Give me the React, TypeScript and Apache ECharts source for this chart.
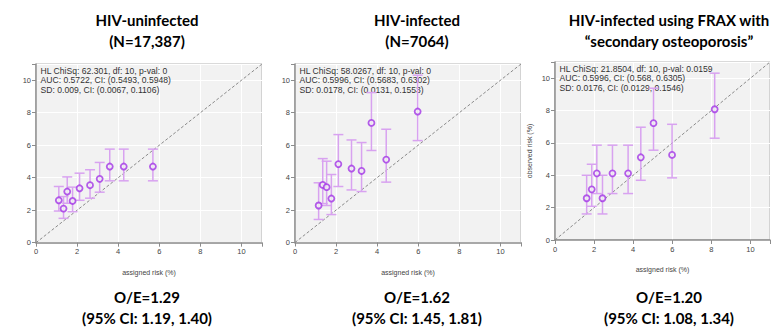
import React, { useEffect, useRef } from "react";
import * as echarts from "echarts";

// ---------- data ----------
const titleLines1 = ["HIV-uninfected", "(N=17,387)"];
const titleLines2 = ["HIV-infected", "(N=7064)"];
const titleLines3 = ["HIV-infected using FRAX with", "\u201Csecondary osteoporosis\u201D"];

const footLines1 = ["O/E=1.29", "(95% CI: 1.19, 1.40)"];
const footLines2 = ["O/E=1.62", "(95% CI: 1.45, 1.81)"];
const footLines3 = ["O/E=1.20", "(95% CI: 1.08, 1.34)"];

const stats1 = ["HL ChiSq: 62.301, df: 10, p-val: 0", "AUC: 0.5722, CI: (0.5493, 0.5948)", "SD: 0.009, CI: (0.0067, 0.1106)"];
const stats2 = ["HL ChiSq: 58.0267, df: 10, p-val: 0", "AUC: 0.5996, CI: (0.5683, 0.6302)", "SD: 0.0178, CI: (0.0131, 0.1553)"];
const stats3 = ["HL ChiSq: 21.8504, df: 10, p-val: 0.0159", "AUC: 0.5996, CI: (0.568, 0.6305)", "SD: 0.0176, CI: (0.0129, 0.1546)"];

const assigned1 = [1.11, 1.34, 1.52, 1.78, 2.12, 2.63, 3.1, 3.59, 4.27, 5.69];
const observed1 = [2.61, 2.1, 3.15, 2.57, 3.35, 3.54, 3.93, 4.69, 4.69, 4.69];
const lower1 = [1.95, 1.5, 2.43, 1.91, 2.61, 2.74, 3.11, 3.81, 3.81, 3.81];
const upper1 = [3.46, 2.84, 4.05, 3.42, 4.28, 4.49, 4.94, 5.76, 5.76, 5.76];

const assigned2 = [1.15, 1.35, 1.54, 1.77, 2.11, 2.75, 3.24, 3.72, 4.44, 5.97];
const observed2 = [2.28, 3.55, 3.41, 2.71, 4.83, 4.56, 4.41, 7.37, 5.11, 8.07];
const lower2 = [1.42, 2.4, 2.28, 1.72, 3.45, 3.24, 3.14, 5.67, 3.72, 6.28];
const upper2 = [3.68, 5.17, 5.01, 4.19, 6.65, 6.32, 6.16, 9.24, 6.98, 10.31];

const assigned3 = [1.62, 1.88, 2.14, 2.43, 2.94, 3.74, 4.39, 5.04, 5.99, 8.17];
const observed3 = [2.58, 3.13, 4.12, 2.58, 4.12, 4.12, 5.11, 7.22, 5.26, 8.08];
const lower3 = [1.61, 2.08, 2.87, 1.61, 2.87, 2.87, 3.69, 5.55, 3.84, 6.29];
const upper3 = [4.0, 4.68, 5.86, 4.0, 5.86, 5.86, 6.97, 9.38, 7.15, 10.31];

const axisTicks = [0, 2, 4, 6, 8, 10];
const axisMin = 0;
const axisMax = 11;
const xAxisName = "assigned risk (%)";
const yAxisName = "observed risk (%)";

// ---------- layout ----------
const grids = [
  { left: 36, top: 64, width: 226, height: 178.7 },
  { left: 295, top: 64, width: 226, height: 178.5 },
  { left: 555, top: 62, width: 225, height: 178 },
];
const centers = [147, 417, 669];

const POINT = "#a234e6";
const BAR = "#d8a2f0";
const TITLE_FONT = "Lato, 'Open Sans', sans-serif";
const SMALL_FONT = "'Liberation Sans', Arial, sans-serif";

export default function App() {
  const ref = useRef<HTMLDivElement>(null);

  useEffect(() => {
    document.body.style.margin = "0";
    if (!ref.current) return;
    const chart = echarts.init(ref.current, undefined, { renderer: "svg" });

    const panels = [
      { a: assigned1, o: observed1, lo: lower1, hi: upper1, stats: stats1, title: titleLines1, foot: footLines1, showY: false },
      { a: assigned2, o: observed2, lo: lower2, hi: upper2, stats: stats2, title: titleLines2, foot: footLines2, showY: false },
      { a: assigned3, o: observed3, lo: lower3, hi: upper3, stats: stats3, title: titleLines3, foot: footLines3, showY: true },
    ];

    const axisCommon = {
      type: "value" as const,
      min: axisMin,
      max: axisMax,
      interval: 2,
      axisLine: { show: true, onZero: false, lineStyle: { color: "#8c8c8c", width: 1.5 } },
      axisTick: { show: true, length: 4, lineStyle: { color: "#8c8c8c" } },
      splitLine: { show: true, lineStyle: { color: "#ffffff", width: 1 } },
      nameTextStyle: { fontFamily: SMALL_FONT, fontSize: 7, color: "#444" },
    };

    const labelCommon = {
      fontFamily: SMALL_FONT,
      fontSize: 7.5,
      color: "#444",
      margin: 5,
      formatter: (v: number) => (axisTicks.includes(v) ? String(v) : ""),
    };

    const xAxis: any[] = [];
    const yAxis: any[] = [];
    const series: any[] = [];
    const graphic: any[] = [];

    panels.forEach((p, i) => {
      const g = grids[i];
      xAxis.push({
        ...axisCommon,
        gridIndex: i,
        name: xAxisName,
        nameLocation: "middle",
        nameGap: 26,
        axisLabel: labelCommon,
      });
      yAxis.push({
        ...axisCommon,
        gridIndex: i,
        name: p.showY ? yAxisName : "",
        nameLocation: "middle",
        nameGap: 22,
        axisLabel: labelCommon,
      });

      series.push({
        type: "line",
        xAxisIndex: i,
        yAxisIndex: i,
        data: [
          [axisMin, axisMin],
          [axisMax, axisMax],
        ],
        symbol: "none",
        silent: true,
        z: 1,
        lineStyle: { color: "#8a8a8a", width: 1, type: [3, 2] },
      });

      series.push({
        type: "custom",
        xAxisIndex: i,
        yAxisIndex: i,
        z: 3,
        data: p.a.map((x, k) => [x, p.lo[k], p.hi[k]]),
        encode: { x: 0, y: [1, 2] },
        renderItem: (_params: any, api: any) => {
          const x = api.value(0);
          const top = api.coord([x, api.value(2)]);
          const bot = api.coord([x, api.value(1)]);
          const w = 5;
          const style = { stroke: BAR, lineWidth: 1.5 };
          return {
            type: "group",
            children: [
              { type: "line", shape: { x1: top[0], y1: top[1], x2: bot[0], y2: bot[1] }, style },
              { type: "line", shape: { x1: top[0] - w, y1: top[1], x2: top[0] + w, y2: top[1] }, style },
              { type: "line", shape: { x1: bot[0] - w, y1: bot[1], x2: bot[0] + w, y2: bot[1] }, style },
            ],
          };
        },
      });

      series.push({
        type: "scatter",
        xAxisIndex: i,
        yAxisIndex: i,
        z: 4,
        symbol: "circle",
        symbolSize: 6,
        data: p.a.map((x, k) => [x, p.o[k]]),
        itemStyle: { color: "#f2f2f2", borderColor: POINT, borderWidth: 1.8 },
      });

      p.title.forEach((t, k) => {
        graphic.push({
          type: "text",
          x: centers[i],
          y: 20 + k * 21,
          style: {
            text: t,
            font: `bold 15px ${TITLE_FONT}`,
            fill: "#000",
            align: "center",
            verticalAlign: "middle",
          },
        });
      });
      p.foot.forEach((t, k) => {
        graphic.push({
          type: "text",
          x: centers[i],
          y: 297 + k * 21,
          style: {
            text: t,
            font: `bold 15px ${TITLE_FONT}`,
            fill: "#000",
            align: "center",
            verticalAlign: "middle",
          },
        });
      });
      p.stats.forEach((t, k) => {
        graphic.push({
          type: "text",
          x: g.left + 4.5,
          y: g.top + 6.5 + k * 9.7,
          z: 2,
          style: {
            text: t,
            font: `8.6px ${SMALL_FONT}`,
            fill: "#333",
            align: "left",
            verticalAlign: "middle",
          },
        });
      });
    });

    chart.setOption({
      animation: false,
      backgroundColor: "#ffffff",
      grid: grids.map((g) => ({
        ...g,
        show: true,
        backgroundColor: "#f2f2f2",
        borderColor: "#b5b5b5",
        borderWidth: 1,
        containLabel: false,
      })),
      xAxis,
      yAxis,
      series,
      graphic,
    });

    return () => chart.dispose();
  }, []);

  return <div ref={ref} style={{ width: 773, height: 331 }} />;
}
